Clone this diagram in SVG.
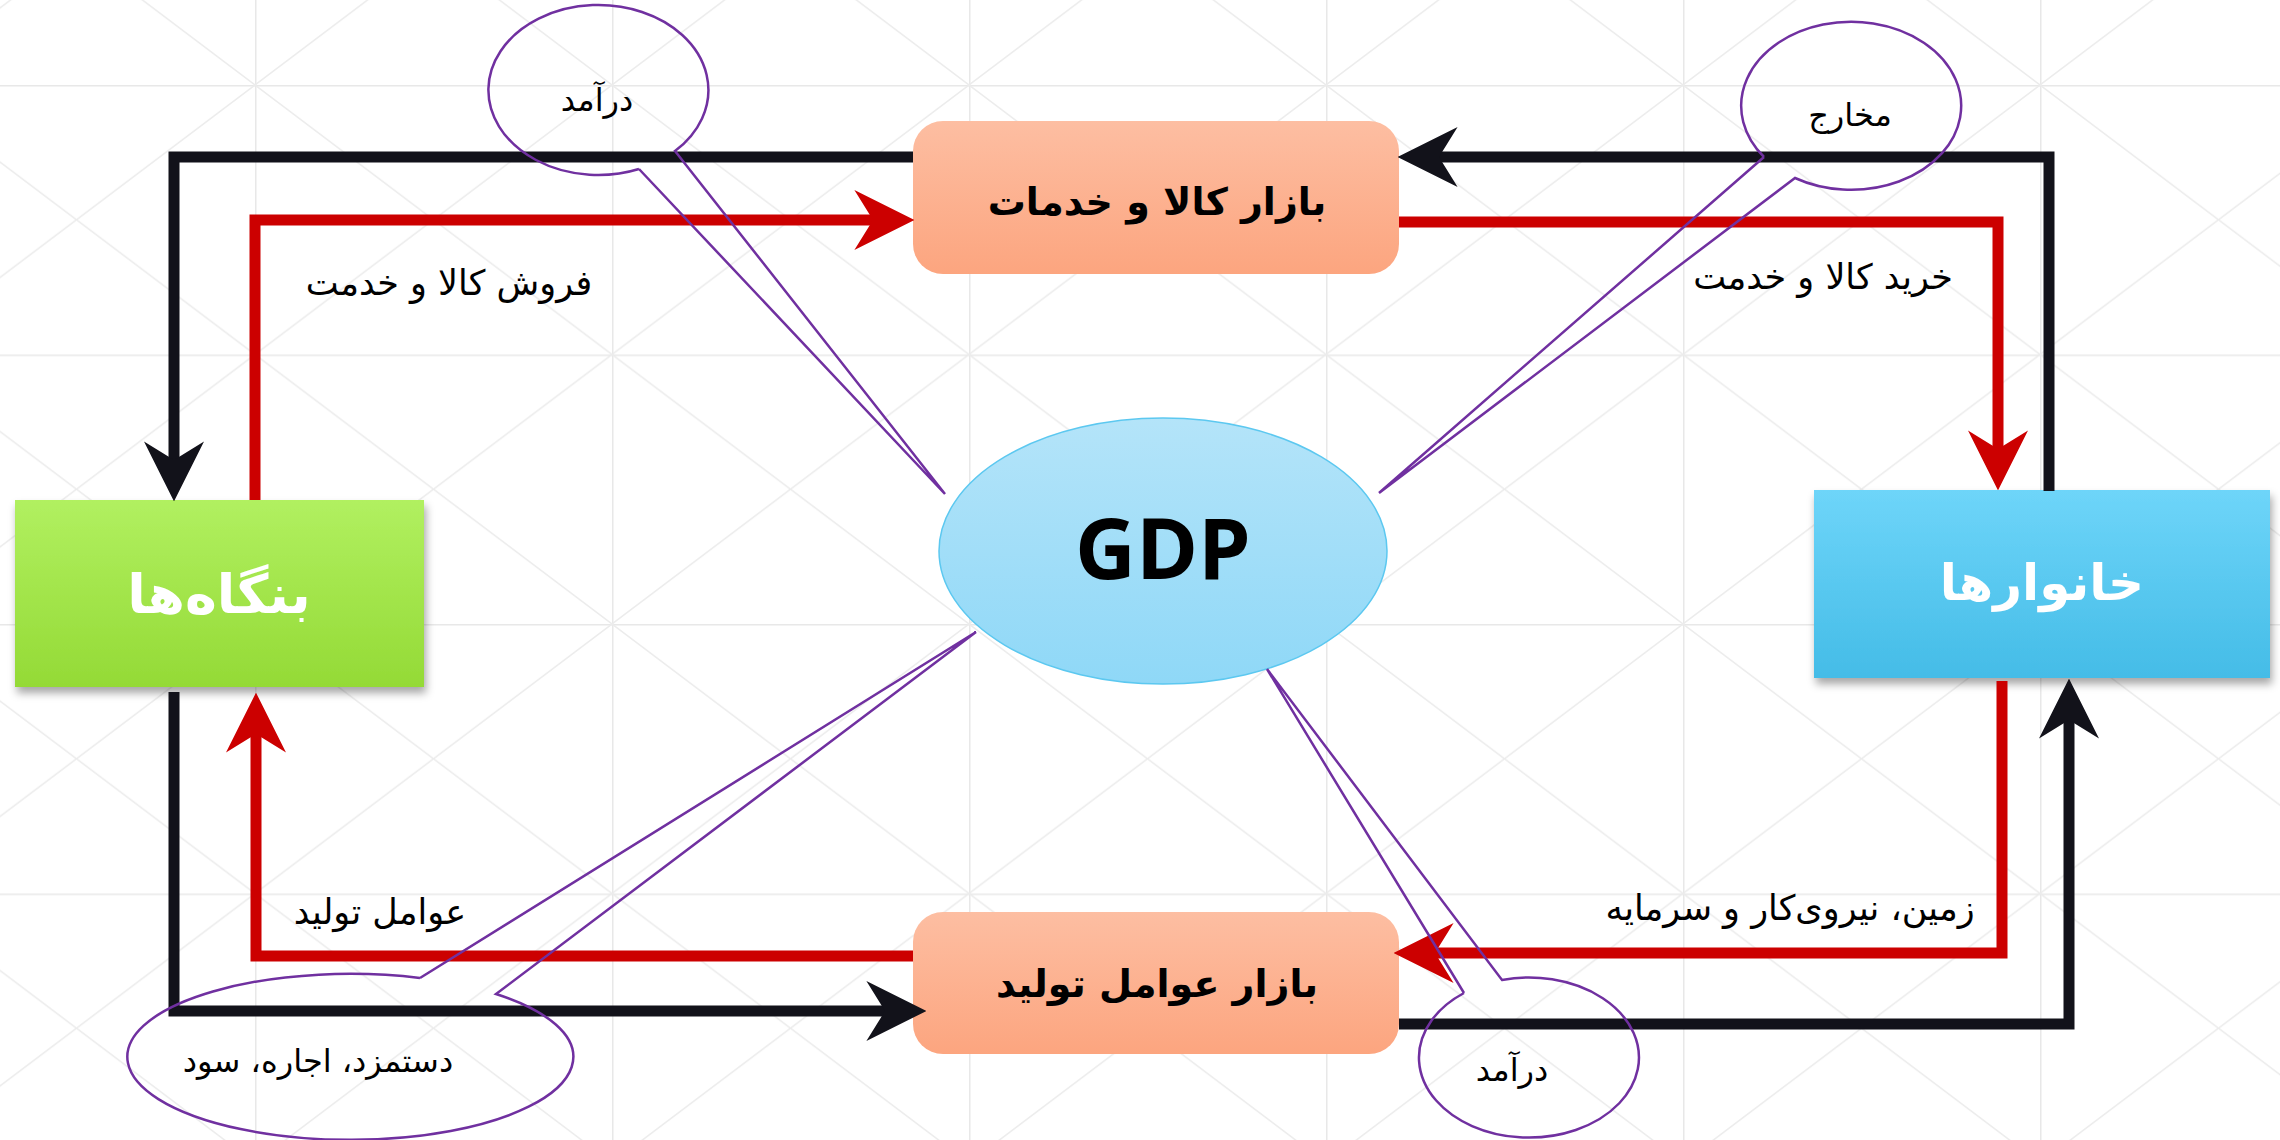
<svg xmlns="http://www.w3.org/2000/svg" width="2280" height="1140" viewBox="0 0 2280 1140">
<defs>
<style>
.lbl{font-family:"DejaVu Sans",sans-serif;font-size:35px;fill:#000;text-anchor:middle;direction:rtl}
.cl{font-family:"DejaVu Sans",sans-serif;font-size:32px;fill:#000;text-anchor:middle;direction:rtl}
.box{font-family:"DejaVu Sans",sans-serif;font-weight:bold;text-anchor:middle;direction:rtl}
.blk{fill:none;stroke:#12121a;stroke-width:11;stroke-linejoin:miter;marker-end:url(#ab)}
.red{fill:none;stroke:#cc0000;stroke-width:11;stroke-linejoin:miter;marker-end:url(#ar)}
.call{fill:none;stroke:#7030a0;stroke-width:2.5;stroke-linejoin:miter}
</style>
<pattern id="grid" patternUnits="userSpaceOnUse" x="255" y="85" width="357" height="269.5">
<path d="M0,0H357M0,0V269.5" stroke="#e8e8e8" stroke-width="3" fill="none"/>
<path d="M0,0L357,269.5M357,0L0,269.5" stroke="#ececec" stroke-width="1.5" fill="none"/>
</pattern>
<linearGradient id="gOr" x1="0" y1="0" x2="0" y2="1"><stop offset="0" stop-color="#fdbea2"/><stop offset="1" stop-color="#fca57f"/></linearGradient>
<linearGradient id="gGr" x1="0" y1="0" x2="0" y2="1"><stop offset="0" stop-color="#b1f060"/><stop offset="1" stop-color="#94da36"/></linearGradient>
<linearGradient id="gBl" x1="0" y1="0" x2="0" y2="1"><stop offset="0" stop-color="#6ed5f9"/><stop offset="1" stop-color="#44bce7"/></linearGradient>
<linearGradient id="gGdp" x1="0" y1="0" x2="0" y2="1"><stop offset="0" stop-color="#b4e4f9"/><stop offset="1" stop-color="#8fd8f7"/></linearGradient>
<filter id="sh" x="-10%" y="-10%" width="120%" height="130%"><feDropShadow dx="2" dy="6" stdDeviation="4" flood-color="#000" flood-opacity="0.35"/></filter>
<marker id="ab" markerUnits="userSpaceOnUse" markerWidth="60" markerHeight="60" viewBox="0 0 58 58" refX="18" refY="29" orient="auto"><path d="M0,0 L58,29 L0,58 L18,29 Z" fill="#12121a"/></marker>
<marker id="ar" markerUnits="userSpaceOnUse" markerWidth="60" markerHeight="60" viewBox="0 0 58 58" refX="18" refY="29" orient="auto"><path d="M0,0 L58,29 L0,58 L18,29 Z" fill="#cc0000"/></marker>
</defs>
<rect width="2280" height="1140" fill="#fff"/>
<rect width="2280" height="1140" fill="url(#grid)"/>

<g id="goods-market">
<rect x="913" y="121" width="486" height="153" rx="30" fill="url(#gOr)"/>
<text class="box" x="1157" y="215" font-size="38">بازار کالا و خدمات</text>
</g>
<g id="factor-market">
<rect x="913" y="912" width="486" height="142" rx="30" fill="url(#gOr)"/>
<text class="box" x="1157" y="997" font-size="38">بازار عوامل تولید</text>
</g>
<g id="firms">
<rect x="15" y="500" width="409" height="187" fill="url(#gGr)" filter="url(#sh)"/>
<text class="box" x="219" y="613" font-size="54" fill="#fff">بنگاه‌ها</text>
</g>
<g id="households">
<rect x="1814" y="490" width="456" height="188" fill="url(#gBl)" filter="url(#sh)"/>
<text class="box" x="2042" y="600" font-size="50" fill="#fff">خانوارها</text>
</g>
<g id="gdp">
<ellipse cx="1163" cy="551" rx="224" ry="133" fill="url(#gGdp)" stroke="#5cc8f0" stroke-width="1.5"/>
<text x="1163" y="579" font-family="'Open Sans',sans-serif" font-weight="bold" font-size="84" text-anchor="middle">GDP</text>
</g>

<g id="connectors">
<path class="blk" d="M913,157 H174 V460"/>
<path class="red" d="M255,500 V220 H873"/>
<path class="blk" d="M2049,491 V157 H1439"/>
<path class="red" d="M1399,222 H1998 V449"/>
<path class="blk" d="M174,692 V1011 H885"/>
<path class="red" d="M913,956 H256 V734"/>
<path class="red" d="M2002,681 V953 H1435"/>
<path class="blk" d="M1399,1024 H2069 V720"/>
</g>

<g id="labels">
<text class="lbl" x="449" y="295">فروش کالا و خدمت</text>
<text class="lbl" x="1823" y="289">خرید کالا و خدمت</text>
<text class="lbl" x="380" y="924">عوامل تولید</text>
<text class="lbl" x="1790" y="920">زمین، نیروی‌کار و سرمایه</text>
</g>

<g id="callout-income-top">
<path class="call" d="M639,169 L945,494 L675,151 A110 85 0 1 0 639,169"/>
<text class="cl" x="597" y="111">درآمد</text>
</g>
<g id="callout-expenditure">
<path class="call" d="M1764,157 L1379,493 L1795,178 A110 84 0 1 0 1764,157"/>
<text class="cl" x="1850" y="126">مخارج</text>
</g>
<g id="callout-wages">
<path class="call" d="M420,978 L976,632 L496,994 A223 83 0 1 1 420,978"/>
<text class="cl" x="318" y="1072">دستمزد، اجاره، سود</text>
</g>
<g id="callout-income-bottom">
<path class="call" d="M1464,993 L1267,669 L1502,980 A110 80 0 1 1 1464,993"/>
<text class="cl" x="1512" y="1081">درآمد</text>
</g>
</svg>
